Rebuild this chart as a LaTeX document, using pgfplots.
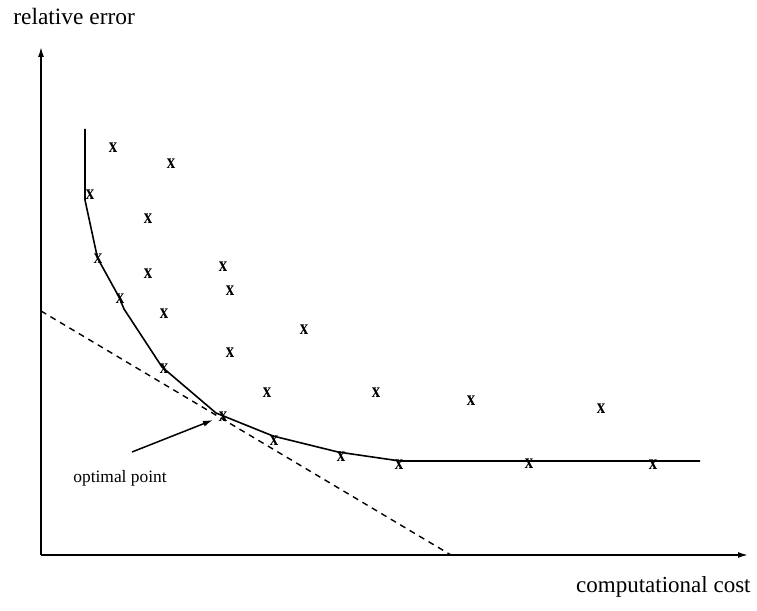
\documentclass[border=0pt]{standalone}
\usepackage{fontspec}
\setmainfont{Liberation Serif}
\usepackage{graphicx}
\usepackage{pgfplots}
\pgfplotsset{compat=1.18}
\usetikzlibrary{arrows.meta}

\begin{document}
\begin{tikzpicture}
\begin{axis}[x=0.5pt,y=0.5pt,
  xmin=41,xmax=748, ymin=56,ymax=564,
  axis lines=left, clip=false,
  xtick=\empty, ytick=\empty,
  axis line style={line width=0.75pt,-{Latex[length=5pt,width=3pt]}}]
% frame of the whole picture, 757 x 611 px
\path (axis cs:0,0) rectangle (axis cs:757,611);
% lower envelope
\addplot[line width=0.8pt] coordinates
 {(85,482) (85,411) (97.5,353) (119,314) (124,302) (162,244) (216,198)
  (273,175) (338,159) (400,150) (700,150)};
% tangent line
\addplot[line width=0.7pt,dash pattern=on 3pt off 2.5pt] coordinates
 {(41,300) (451,56)};
% measured configurations
\addplot[only marks,mark=text,
  text mark={\fontsize{10.5}{10.5}\selectfont\scalebox{0.8}[1]{\bfseries x}}]
  coordinates
 {(113,463) (171,447) (90,416) (148,392) (98,352) (148,337) (223,344)
  (230,320) (120,312) (164,297) (304,281) (230,258) (164,242) (267,218)
  (376,218) (471,210) (601,202) (223,194) (274,170) (341,154) (399,146)
  (529,147) (653,146)};
\draw[line width=0.75pt,-{Latex[length=5pt,width=3pt]}]
  (axis cs:132,159) -- (axis cs:213,191);
\node[anchor=base west,inner sep=0pt,font=\fontsize{8.7}{10}\selectfont]
  at (axis cs:73,128) {optimal point};
\node[anchor=base west,inner sep=0pt,font=\fontsize{11.7}{14}\selectfont]
  at (axis cs:13,586) {relative error};
\node[anchor=base east,inner sep=0pt,font=\fontsize{11.5}{14}\selectfont]
  at (axis cs:751,18) {computational cost};
\end{axis}
\end{tikzpicture}
\end{document}
